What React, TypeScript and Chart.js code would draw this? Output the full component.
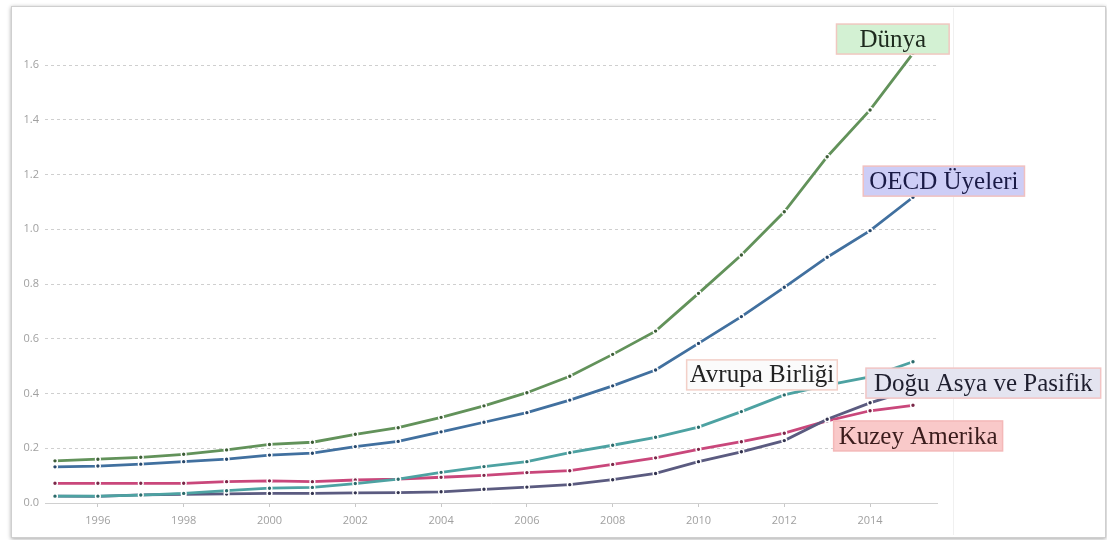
import React, { useEffect, useRef } from "react";
import { Chart, registerables } from "chart.js";

Chart.register(...registerables);

// ---- data ----
const years = [1995, 1996, 1997, 1998, 1999, 2000, 2001, 2002, 2003, 2004, 2005, 2006, 2007, 2008, 2009, 2010, 2011, 2012, 2013, 2014, 2015];
const dunya = [0.154, 0.16, 0.167, 0.178, 0.194, 0.214, 0.222, 0.251, 0.275, 0.313, 0.355, 0.403, 0.463, 0.543, 0.628, 0.766, 0.906, 1.064, 1.265, 1.436, 1.643];
const oecd = [0.132, 0.135, 0.142, 0.151, 0.16, 0.175, 0.182, 0.206, 0.225, 0.26, 0.295, 0.33, 0.376, 0.428, 0.486, 0.583, 0.681, 0.788, 0.898, 0.995, 1.117];
const avrupa = [0.025, 0.025, 0.029, 0.035, 0.045, 0.054, 0.057, 0.071, 0.087, 0.112, 0.133, 0.151, 0.184, 0.211, 0.24, 0.277, 0.334, 0.395, 0.431, 0.461, 0.516];
const doguAsya = [0.025, 0.024, 0.03, 0.032, 0.033, 0.035, 0.035, 0.037, 0.038, 0.041, 0.05, 0.058, 0.067, 0.085, 0.108, 0.151, 0.187, 0.228, 0.306, 0.366, 0.415];
const kuzeyAmerika = [0.072, 0.072, 0.072, 0.072, 0.078, 0.081, 0.078, 0.084, 0.087, 0.094, 0.101, 0.111, 0.118, 0.141, 0.165, 0.196, 0.224, 0.255, 0.3, 0.337, 0.357];

const seriesNames = ["Dünya", "OECD Üyeleri", "Avrupa Birliği", "Doğu Asya ve Pasifik", "Kuzey Amerika"];
const yTickValues = [0, 0.2, 0.4, 0.6, 0.8, 1.0, 1.2, 1.4, 1.6];
const xTickYears = [1996, 1998, 2000, 2002, 2004, 2006, 2008, 2010, 2012, 2014];

// ---- styles ----
const lineColors = ["#62925a", "#41709f", "#4da2a2", "#5b5b80", "#c9477b"];
const pointColors = ["#3c5c36", "#27476a", "#2b6a6a", "#33334f", "#7a2748"];

// annotation boxes (anchored in data coordinates: year, value)
const labelBoxes = [
  { name: seriesNames[0], year: 2014.53, value: 1.695, padX: 23, fill: "#d3f1d3", border: "#f0c8c0", color: "#1e2a1e" },
  { name: seriesNames[1], year: 2015.72, value: 1.176, padX: 6, fill: "#cdcdf6", border: "#f0c0c0", color: "#1a1a45" },
  { name: seriesNames[2], year: 2011.48, value: 0.468, padX: 3, fill: "#fbfbfb", border: "#f3d0c8", color: "#222222" },
  { name: seriesNames[3], year: 2016.64, value: 0.438, padX: 8, fill: "#e4e4f0", border: "#f2c4c4", color: "#1e1e2e" },
  { name: seriesNames[4], year: 2015.12, value: 0.245, padX: 5, fill: "#f9c9c9", border: "#f4b8b8", color: "#3a1c1c" },
];

const labelPlugin = {
  id: "labelBoxes",
  afterDatasetsDraw(chart: any) {
    const { ctx, scales } = chart;
    const xs = scales.x;
    const ys = scales.y;
    ctx.save();
    ctx.font = '25px "Liberation Serif", "Times New Roman", serif';
    ctx.textBaseline = "middle";
    ctx.textAlign = "center";
    for (const lb of labelBoxes) {
      const cx = xs.getPixelForValue(lb.year);
      const cy = ys.getPixelForValue(lb.value);
      const tw = ctx.measureText(lb.name).width;
      const w = tw + lb.padX * 2;
      const h = 30;
      ctx.fillStyle = lb.fill;
      ctx.fillRect(cx - w / 2, cy - h / 2, w, h);
      ctx.strokeStyle = lb.border;
      ctx.lineWidth = 1.5;
      ctx.strokeRect(cx - w / 2, cy - h / 2, w, h);
      ctx.fillStyle = lb.color;
      ctx.fillText(lb.name, cx, cy + 1);
    }
    ctx.restore();
  },
};

export default function App() {
  const canvasRef = useRef<HTMLCanvasElement | null>(null);

  useEffect(() => {
    if (!canvasRef.current) return;
    const seriesValues = [dunya, oecd, avrupa, doguAsya, kuzeyAmerika];
    const chart = new Chart(canvasRef.current, {
      type: "line",
      data: {
        datasets: seriesValues.map((vals, i) => ({
          label: seriesNames[i],
          data: years.map((y, j) => ({ x: y, y: vals[j] })),
          borderColor: lineColors[i],
          backgroundColor: lineColors[i],
          borderWidth: 2.8,
          pointRadius: 2.4,
          pointBorderWidth: 1.4,
          pointBorderColor: "#ffffff",
          pointBackgroundColor: pointColors[i],
          tension: 0,
          fill: false,
        })),
      },
      plugins: [labelPlugin],
      options: {
        animation: false,
        responsive: false,
        maintainAspectRatio: false,
        layout: { padding: { left: 0, right: 170, top: 24, bottom: 0 } },
        plugins: {
          legend: { display: false },
          tooltip: { enabled: false },
          title: { display: false },
        },
        scales: {
          x: {
            type: "linear",
            min: 1994.767,
            max: 2015.56,
            afterBuildTicks: (scale: any) => {
              scale.ticks = xTickYears.map((v) => ({ value: v }));
            },
            afterFit: (scale: any) => {
              scale.height = 37;
            },
            grid: {
              drawOnChartArea: false,
              drawTicks: true,
              tickLength: 4,
              color: "#c8c8c8",
            },
            border: { display: true, color: "#d0d0d0", width: 1 },
            ticks: {
              autoSkip: false,
              maxRotation: 0,
              padding: 7,
              color: "#a0a0a0",
              font: { family: '"Open Sans", sans-serif', size: 11 },
              callback: (v: any) => String(v),
            },
          },
          y: {
            type: "linear",
            min: 0,
            max: 1.75,
            afterBuildTicks: (scale: any) => {
              scale.ticks = yTickValues.map((v) => ({ value: v }));
            },
            afterFit: (scale: any) => {
              scale.width = 45;
            },
            grid: {
              drawTicks: false,
              color: (c: any) => (c.tick && c.tick.value === 0 ? "rgba(0,0,0,0)" : "#cfcfcf"),
              lineWidth: 1,
            },
            border: { display: false, dash: [3, 3] },
            ticks: {
              padding: 6,
              color: "#a0a0a0",
              font: { family: '"Open Sans", sans-serif', size: 11 },
              callback: (v: any) => Number(v).toFixed(1),
            },
          },
        },
      },
    } as any);
    return () => chart.destroy();
  }, []);

  return (
    <div style={{ position: "absolute", left: 0, top: 0, width: 1107, height: 540, background: "#ffffff", overflow: "hidden" }}>
      <div
        style={{
          position: "absolute",
          left: 11,
          top: 6,
          width: 1093,
          height: 530,
          border: "1px solid #cfcfcf",
          boxShadow: "0 1px 4px rgba(0,0,0,0.35)",
          background: "#ffffff",
        }}
      />
      <div style={{ position: "absolute", left: 953, top: 8, width: 1, height: 527, background: "#f0f0f0" }} />
      <canvas ref={canvasRef} width={1107} height={540} style={{ position: "absolute", left: 0, top: 0, width: 1107, height: 540 }} />
    </div>
  );
}
